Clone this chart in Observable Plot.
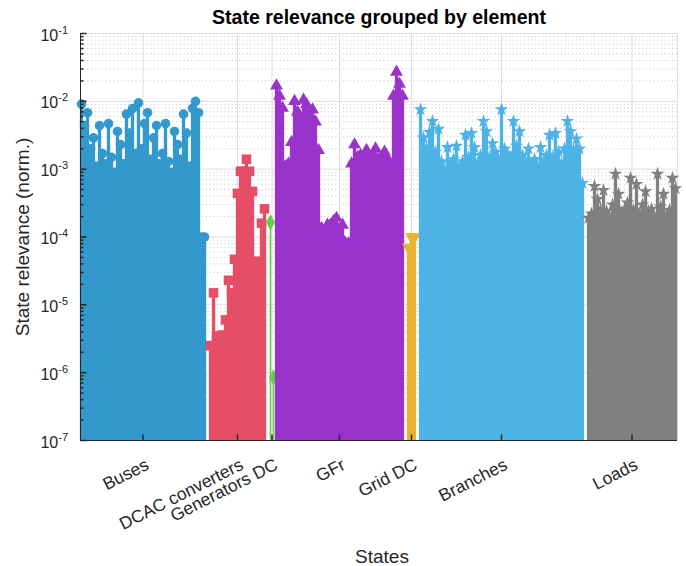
<!DOCTYPE html>
<html>
<head>
<meta charset="utf-8">
<script src="https://cdn.jsdelivr.net/npm/d3@7"></script>
<script src="https://cdn.jsdelivr.net/npm/@observablehq/plot@0.6"></script>
<style>
  html, body { margin: 0; padding: 0; background: #fff; }
  #chart svg { display: block; }
</style>
</head>
<body>
<div id="chart"></div>
<script>
// ---------------- data ----------------
const title = "State relevance grouped by element";
const xLabel = "States";
const yLabel = "State relevance (norm.)";
const categories = ["Buses", "DCAC converters", "Generators DC", "GFr", "Grid DC", "Branches", "Loads"];

const busesValues = [
  9.1e-3, 4.4e-3, 6.8e-3, 2.0e-3, 2.9e-3, 1.1e-3, 4.4e-3, 1.7e-3, 1.2e-3, 4.7e-3,
  1.5e-3, 9.0e-4, 3.6e-3, 2.3e-3, 1.2e-3, 6.5e-3, 3.4e-3, 7.8e-3, 1.7e-3, 9.5e-3,
  2.0e-3, 4.7e-3, 6.8e-3, 1.4e-3, 2.9e-3, 4.4e-3, 1.2e-3, 1.7e-3, 4.7e-3, 1.3e-3,
  9.0e-4, 3.6e-3, 2.3e-3, 1.4e-3, 6.5e-3, 3.4e-3, 1.1e-3, 7.9e-3, 1.0e-2, 6.8e-3,
  1.0e-4, 1.0e-4
];
const dcacValues = [
  2.5e-6, 1.5e-5, 3.0e-6, 3.5e-6, 3.6e-6, 6.0e-6, 2.3e-5, 1.5e-5, 4.7e-5, 4.4e-4,
  9.3e-4, 9.3e-4, 1.4e-3, 9.3e-4, 4.7e-4, 3.5e-5, 4.4e-5, 1.6e-4, 2.6e-4
];
const genDcValues = [1.65e-4, 8.5e-7];
const gfrValues = [
  1.7e-2, 1.2e-2, 8.0e-3, 1.1e-3, 1.2e-3, 2.5e-3, 1.0e-2, 7.0e-3, 5.5e-3, 1.05e-2,
  9.0e-3, 6.5e-3, 7.5e-3, 5.0e-3, 1.9e-3, 1.35e-4, 1.1e-4, 1.5e-4, 1.5e-4, 1.7e-4,
  1.9e-4, 1.1e-4, 1.5e-4, 8.0e-5, 8.0e-5, 1.2e-3, 2.3e-3, 1.5e-3, 1.6e-3, 1.5e-3,
  1.9e-3, 1.4e-3, 1.5e-3, 2.0e-3, 1.4e-3, 1.5e-3, 1.8e-3, 1.4e-3, 1.2e-3, 1.2e-2,
  2.7e-2, 1.8e-2, 1.2e-2
];
const gridDcValues = [7.0e-5, 1.0e-4, 1.0e-4];
const branchesValues = [
  7.6e-3, 2.9e-3, 2.0e-3, 3.5e-3, 5.1e-3, 1.8e-3, 3.9e-3, 1.3e-3, 1.0e-3, 2.1e-3,
  1.2e-3, 1.4e-3, 2.2e-3, 1.1e-3, 1.3e-3, 3.2e-3, 1.5e-3, 3.4e-3, 2.1e-3, 1.2e-3,
  1.6e-3, 5.1e-3, 3.6e-3, 1.5e-3, 2.4e-3, 1.8e-3, 1.4e-3, 7.6e-3, 2.0e-3, 1.7e-3,
  1.5e-3, 5.1e-3, 2.2e-3, 3.6e-3, 1.6e-3, 1.3e-3, 2.0e-3, 1.2e-3, 1.4e-3, 1.1e-3,
  2.1e-3, 1.3e-3, 1.6e-3, 3.2e-3, 1.5e-3, 3.4e-3, 1.8e-3, 1.2e-3, 2.0e-3, 5.1e-3,
  3.6e-3, 1.9e-3, 2.8e-3, 2.0e-3, 6.2e-4
];
const loadsValues = [
  1.9e-4, 2.2e-4, 5.6e-4, 3.6e-4, 2.5e-4, 4.9e-4, 2.4e-4, 2.0e-4, 3.0e-4, 8.5e-4,
  4.3e-4, 2.3e-4, 2.6e-4, 3.2e-4, 7.4e-4, 2.5e-4, 6.0e-4, 2.2e-4, 3.0e-4, 4.7e-4,
  2.4e-4, 2.6e-4, 2.0e-4, 8.5e-4, 2.8e-4, 4.3e-4, 2.1e-4, 2.5e-4, 7.4e-4, 5.2e-4
];
const yTickExponents = [-7, -6, -5, -4, -3, -2, -1];

// ---------------- styles ----------------
const groupColors = ["#3399cc", "#e64d66", "#66cc4d", "#9933cc", "#e6b333", "#4db3e6", "#808080"];
const downTriangle = {
  draw(ctx, size) {
    const y = Math.sqrt(size / (Math.sqrt(3) * 3));
    ctx.moveTo(0, 2 * y);
    ctx.lineTo(-Math.sqrt(3) * y, -y);
    ctx.lineTo(Math.sqrt(3) * y, -y);
    ctx.closePath();
  }
};
const groupSymbols = [d3.symbolCircle, d3.symbolSquare, d3.symbolDiamond, d3.symbolTriangle, downTriangle, d3.symbolStar, d3.symbolStar];
const markerR = [4.8, 5.4, 4.8, 4.8, 4.8, 4.3, 4.3];
const stemWidth = [3.3, 3.3, 1.6, 3.3, 3.3, 3.3, 3.3];
const gapAfter = [1, 1, 0, 1, 1, 1, 0];
const axisColor = "#262626";
const gridColor = "#dedede";
const minorGridColor = "#c4c4c4";
const font = "'Liberation Sans', Arial, Helvetica, sans-serif";

// ---------------- build rows ----------------
const groupValues = [busesValues, dcacValues, genDcValues, gfrValues, gridDcValues, branchesValues, loadsValues];
let cursor = 0;
const groups = groupValues.map((vals, g) => {
  const first = cursor;
  const rows = vals.map((v, k) => ({i: first + k, v}));
  const last = first + vals.length - 1;
  cursor = last + 1 + gapAfter[g];
  return {name: categories[g], rows, center: (first + last) / 2};
});
const lastIndex = groups[groups.length - 1].rows.at(-1).i;
const xDomain = [-1 / 3, lastIndex + 2 / 3];

const decades = yTickExponents.map(e => 10 ** e);
const yMin = decades[0], yMax = decades[decades.length - 1];
const minorTicks = [];
for (const e of yTickExponents.slice(0, -1)) for (let m = 2; m <= 9; m++) minorTicks.push(m * 10 ** e);

const hTick = len => ({draw(ctx) { ctx.moveTo(0, 0); ctx.lineTo(len, 0); }});
const vTick = len => ({draw(ctx) { ctx.moveTo(0, 0); ctx.lineTo(0, -len); }});

// ---------------- marks ----------------
const marks = [
  Plot.ruleY(minorTicks, {y: d => d, stroke: minorGridColor, strokeDasharray: "1,2.7"}),
  Plot.ruleY(decades, {y: d => d, stroke: gridColor}),
  Plot.ruleX(groups, {x: "center", stroke: gridColor}),
  Plot.ruleX([xDomain[1]], {x: d => d, stroke: gridColor})
];
groups.forEach((g, k) => {
  marks.push(Plot.ruleX(g.rows, {x: "i", y1: () => yMin, y2: "v", stroke: groupColors[k], strokeWidth: stemWidth[k]}));
  marks.push(Plot.dot(g.rows, {x: "i", y: "v", symbol: groupSymbols[k], r: markerR[k], fill: groupColors[k], stroke: "none"}));
});
marks.push(
  Plot.ruleX([xDomain[0]], {x: d => d, stroke: axisColor}),
  Plot.ruleY([yMin], {y: d => d, stroke: axisColor}),
  Plot.dot(decades, {y: d => d, frameAnchor: "left", symbol: hTick(6), stroke: axisColor, fill: "none"}),
  Plot.dot(minorTicks, {y: d => d, frameAnchor: "left", symbol: hTick(3), stroke: axisColor, fill: "none"}),
  Plot.dot(groups, {x: "center", frameAnchor: "bottom", symbol: vTick(6), stroke: axisColor, fill: "none"}),
  Plot.text(yTickExponents, {
    y: e => 10 ** e, frameAnchor: "left", text: e => `10^${e}`,
    textAnchor: "end", lineAnchor: "middle", dx: -12.5, dy: 2,
    fontSize: 16, fill: axisColor
  }),
  Plot.text(groups, {
    x: "center", frameAnchor: "bottom", text: "name", rotate: -27,
    textAnchor: "end", lineAnchor: "bottom", dx: 7, dy: 28,
    fontSize: 17.5, fill: axisColor
  }),
  Plot.text([xLabel], {frameAnchor: "bottom", dx: 3, dy: 122, textAnchor: "middle", lineAnchor: "bottom", fontSize: 19, fill: axisColor}),
  Plot.text([yLabel], {frameAnchor: "left", rotate: -90, dx: -52, textAnchor: "middle", lineAnchor: "bottom", fontSize: 19, fill: axisColor}),
  Plot.text([title], {frameAnchor: "top", dy: -10, textAnchor: "middle", lineAnchor: "bottom", fontSize: 19.5, fontWeight: "bold", fill: "#000"})
);

const svg = Plot.plot({
  width: 686,
  height: 566,
  marginLeft: 80,
  marginRight: 9,
  marginTop: 33,
  marginBottom: 126,
  style: {fontFamily: font, background: "#fff", overflow: "visible"},
  x: {type: "linear", domain: xDomain, axis: null},
  y: {type: "log", domain: [yMin, yMax], axis: null},
  marks
});

// superscript exponents on the y tick labels
d3.select(svg).selectAll("text").each(function () {
  const t = this.textContent;
  if (!t.includes("^")) return;
  const [base, exp] = t.split("^");
  while (this.firstChild) this.removeChild(this.firstChild);
  d3.select(this).append("tspan").text(base);
  d3.select(this).append("tspan").attr("dy", "-7").attr("font-size", "11").text(exp);
});

document.getElementById("chart").appendChild(svg);
</script>
</body>
</html>
